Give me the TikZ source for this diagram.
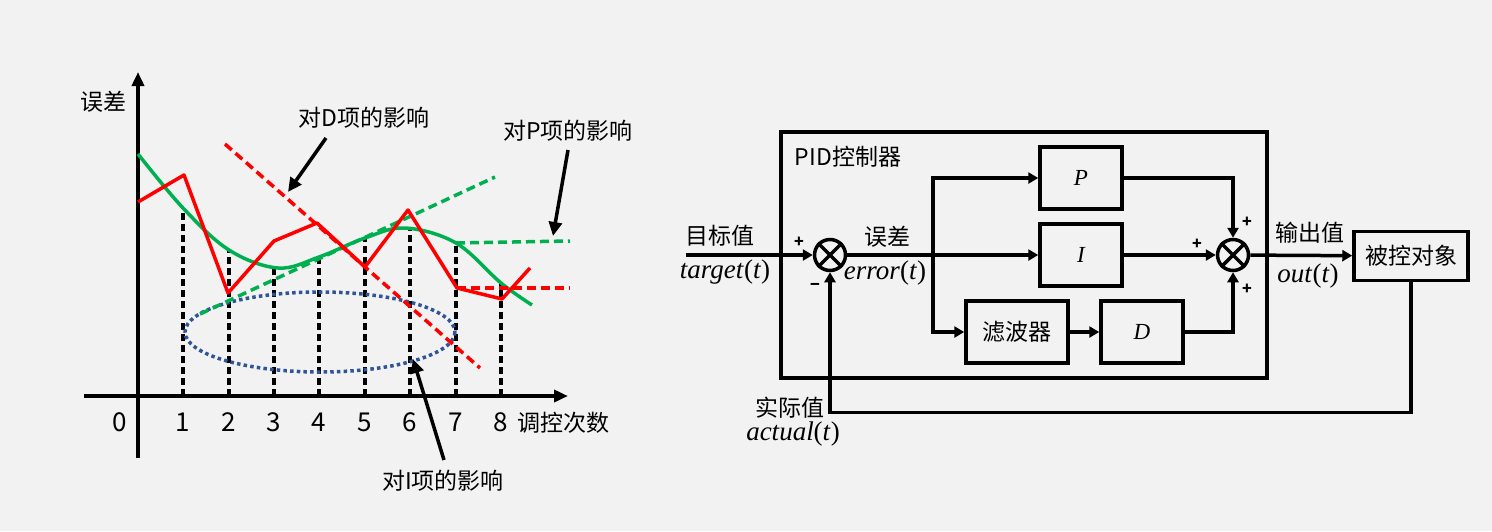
\documentclass[tikz,border=0pt]{standalone}
\usepackage[no-math]{fontspec}
\setmainfont{Noto Sans CJK SC}
\newfontfamily\serifmath{Liberation Serif}
\usetikzlibrary{positioning,arrows.meta,calc}

\definecolor{fundo}{HTML}{F2F2F2}
\definecolor{verde}{HTML}{00B050}
\definecolor{vermelho}{HTML}{FF0000}
\definecolor{azul}{HTML}{2F5597}

\newcommand{\sinal}[1]{\textit{#1}(\textit{t})}

\begin{document}
\begin{tikzpicture}[
    x=0.5pt, y=-0.5pt,
    lbl/.style={font=\fontsize{11.5}{13}\selectfont, inner sep=0pt},
    num/.style={font=\fontsize{13}{14}\selectfont, inner sep=0pt},
    mth/.style={font=\serifmath\fontsize{13.5}{15}\selectfont, inner sep=0pt},
    sgn/.style={font=\fontsize{8}{8}\selectfont\bfseries, inner sep=0pt},
    box/.style={draw, line width=1.75pt, minimum width=41pt, minimum height=31pt, inner sep=0pt, font=\fontsize{11.5}{13}\selectfont},
    soma/.style={draw, circle, line width=1.75pt, minimum size=15.5pt, inner sep=0pt},
    eixo/.style={line width=2pt, -{Triangle[length=7pt,width=6pt]}},
    guia/.style={line width=2pt, dash pattern=on 3.5pt off 2pt},
    seta/.style={line width=1.75pt, -{Triangle[length=5pt,width=5.5pt]}},
    nota/.style={line width=1.75pt, -{Triangle[length=7pt,width=6.5pt]}},
    traco/.style={line width=1.75pt, dash pattern=on 4.5pt off 2.5pt}
]

% fundo
\fill[fundo] (0,0) rectangle (1492,531);

% --- grafico do erro ---
\foreach \x/\t in {183/208, 229/250, 274/268, 319/256, 365/238, 410/228, 456/243, 501/283}
    \draw[guia] (\x,396) -- (\x,\t);

\draw[eixo] (84,396) -- (568,396);
\draw[eixo] (138,458) -- (138,72);

\node[lbl] (eixo_y) at (103,102) {误差};
\node[lbl] (eixo_x) at (563,423) {调控次数};
\foreach \x [count=\i from 0] in {120,183,229,274,319,365,410,456,501}
    \node[num] (tick\i) at (\x,422) {\i};

% elipse do termo I
\draw[azul, line width=1.75pt, dash pattern=on 1.75pt off 1.6pt] (320,332) ellipse [x radius=135, y radius=40];

% tendencias
\draw[verde, traco] (200,314) -- (495,177);
\draw[verde, traco] (456,243) -- (570,241);
\draw[verde, line width=1.75pt] plot[smooth, tension=0.6] coordinates {(138,154) (183,208) (229,250) (278,268) (319,257) (365,238) (405,228) (456,243) (501,283) (532,305)};
\draw[vermelho, line width=1.75pt, line join=round] (138,202) -- (184,175) -- (228,293) -- (274,241) -- (317,223) -- (365,267) -- (408,210) -- (457,288) -- (502,299) -- (530,268);
\draw[vermelho, traco] (225,144) -- (480,368);
\draw[vermelho, traco] (457,288) -- (570,288);

% anotacoes
\node[lbl] (nota_d) at (364,118) {对D项的影响};
\node[lbl] (nota_p) at (568,131) {对P项的影响};
\node[lbl] (nota_i) at (443,481) {对I项的影响};
\coordinate (cauda_d) at (326,138);
\coordinate (ponta_d) at (288,192);
\coordinate (cauda_p) at (568,150);
\coordinate (ponta_p) at (553,236);
\coordinate (cauda_i) at (444,460);
\coordinate (ponta_i) at (413,359);
\draw[nota] (cauda_d) -- (ponta_d);
\draw[nota] (cauda_p) -- (ponta_p);
\draw[nota] (cauda_i) -- (ponta_i);

% --- diagrama PID ---
\node[draw, line width=1.75pt, minimum width=243pt, minimum height=123pt] (pid) at (1024,255) {};
\node[lbl] (pid_txt) at (848,157) {PID控制器};

\node[soma] (soma1) at (830,255) {};
\node[soma] (soma2) at (1233,255) {};
\foreach \s in {soma1,soma2}
    \draw[line width=1.75pt] (\s.45) -- (\s.225) (\s.135) -- (\s.315);

\node[box] (blocoP) at (1081,178) {\serifmath\itshape P};
\node[box] (blocoI) at (1081,255) {\serifmath\itshape I};
\node[box, minimum width=51pt] (filtro) at (1017,332) {滤波器};
\node[box] (blocoD) at (1142,332) {\serifmath\itshape D};
\node[box, minimum width=57pt, minimum height=24.5pt] (planta) at (1411,256) {被控对象};

\coordinate (entrada) at (686,255);
\coordinate (ramo) at (933,255);

\draw[seta] (entrada) -- (soma1);
\draw[seta] (soma1) -- (blocoI);
\draw[seta] (ramo) |- (blocoP);
\draw[seta] (ramo) |- (filtro);
\draw[seta] (blocoP) -| (soma2);
\draw[seta] (blocoI) -- (soma2);
\draw[seta] (filtro) -- (blocoD);
\draw[seta] (blocoD) -| (soma2);
\draw[seta] (soma2) -- (planta);
\draw[seta] (planta.south) -- ++(0,130) -| (soma1);

% rotulos
\node[lbl] (alvo) at (720,236) {目标值};
\node[mth] (alvo_m) at (725,272) {\sinal{target}};
\node[lbl] (erro) at (887,237) {误差};
\node[mth] (erro_m) at (885,273) {\sinal{error}};
\node[lbl] (saida) at (1310,233) {输出值};
\node[mth] (saida_m) at (1308,276) {\sinal{out}};
\node[lbl] (real) at (790,408) {实际值};
\node[mth] (real_m) at (793,434) {\sinal{actual}};

\node[sgn] (s1_mais) at (799,242) {+};
\node[sgn] (s1_menos) at (815,287) {−};
\node[sgn] (s2_esq) at (1197,244) {+};
\node[sgn] (s2_cima) at (1247,222) {+};
\node[sgn] (s2_baixo) at (1247,289) {+};

\end{tikzpicture}
\end{document}
